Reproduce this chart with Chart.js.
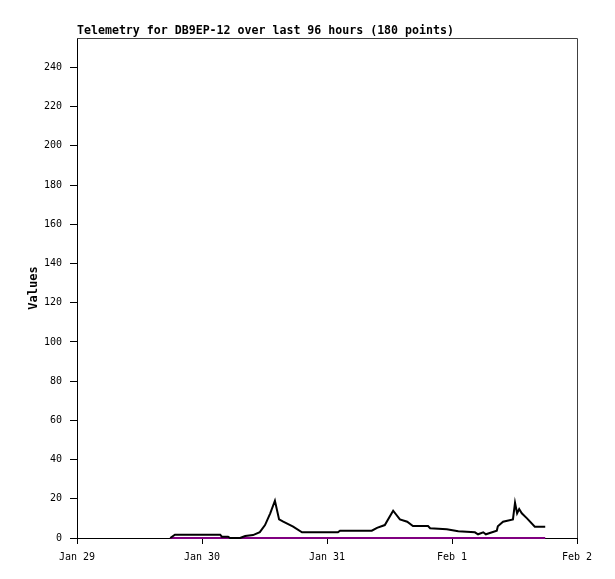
<!DOCTYPE html>
<html>
<head>
<meta charset="utf-8">
<title>Telemetry DB9EP-12</title>
<style>
  body { margin: 0; background: #fff; }
  canvas { display: block; }
</style>
</head>
<body>
<canvas id="telemetry" width="615" height="579"></canvas>
<script src="https://cdn.jsdelivr.net/npm/chart.js@4/dist/chart.umd.min.js"></script>
<script>
// hours since Jan 29 00:00
const dayLabels = ['Jan 29', 'Jan 30', 'Jan 31', 'Feb 1', 'Feb 2'];
const yTicks = [0, 20, 40, 60, 80, 100, 120, 140, 160, 180, 200, 220, 240];

const mainHours = [17.9, 18.8, 27.5, 27.8, 29.0, 29.4, 31.3, 32.3, 33.8, 35.1, 36.1, 37.1, 38.0,
  38.8, 39.6, 41.5, 43.2, 50.1, 50.5, 56.6, 57.6, 59.1, 60.7, 62.0, 63.4, 64.5, 67.4, 67.8,
  71.0, 73.2, 76.4, 77.0, 78.0, 78.5, 79.7, 80.6, 80.8, 81.8, 83.7, 84.1, 84.5, 84.9, 85.4,
  86.4, 87.9, 89.9];
const mainValues = [0, 1.7, 1.7, 0.7, 0.7, 0, 0, 1, 1.5, 3, 6.6, 12.6, 19,
  9.5, 8.3, 5.8, 2.9, 2.9, 3.7, 3.7, 5.2, 6.6, 13.9, 9.5, 8.3, 6.1, 6.1, 5,
  4.5, 3.4, 2.9, 1.9, 2.9, 1.9, 2.9, 3.7, 6, 8.3, 9.5, 18, 12.6, 14.8, 12.6,
  10, 5.8, 5.8];

const purpleHours = [17.9, 89.9];
const purpleValues = [0, 0];

function toPoints(xs, ys) {
  return xs.map((x, i) => ({ x: x, y: ys[i] }));
}

const MONO = '"DejaVu Sans Mono", "Liberation Mono", monospace';

// grey frame on top and right of the plot
const frame = {
  id: 'frame',
  beforeDatasetsDraw(chart) {
    const a = chart.chartArea, c = chart.ctx;
    c.save();
    c.strokeStyle = '#404040';
    c.lineWidth = 1;
    c.beginPath();
    c.moveTo(a.left, a.top + 0.5);
    c.lineTo(a.right + 0.5, a.top + 0.5);
    c.lineTo(a.right + 0.5, a.bottom);
    c.stroke();
    c.restore();
  }
};

new Chart(document.getElementById('telemetry').getContext('2d'), {
  type: 'line',
  data: {
    datasets: [{
      label: 'main',
      data: toPoints(mainHours, mainValues),
      borderColor: '#000000',
      borderWidth: 2,
      pointRadius: 0,
      tension: 0,
      clip: false
    }, {
      label: 'purple',
      data: toPoints(purpleHours, purpleValues),
      borderColor: '#800080',
      borderWidth: 2,
      pointRadius: 0,
      tension: 0,
      clip: false
    }]
  },
  options: {
    responsive: false,
    animation: false,
    devicePixelRatio: 1,
    layout: { padding: { left: 0, right: 38, top: 0, bottom: 0 } },
    plugins: {
      legend: { display: false },
      tooltip: { enabled: false },
      title: {
        display: true,
        text: 'Telemetry for DB9EP-12 over last 96 hours (180 points)',
        align: 'start',
        fullSize: false,
        color: '#000',
        font: { family: MONO, size: 11.6, weight: 'bold', lineHeight: 1 },
        padding: { top: 25.5, bottom: 0.9 }
      }
    },
    scales: {
      x: {
        type: 'linear',
        min: 0,
        max: 96,
        afterFit: s => { s.height = 41; },
        afterBuildTicks: s => { s.ticks = dayLabels.map((_, i) => ({ value: i * 24 })); },
        ticks: {
          color: '#000',
          font: { family: MONO, size: 10 },
          padding: 7,
          maxRotation: 0,
          callback: v => dayLabels[v / 24]
        },
        grid: { drawOnChartArea: false, color: '#000', tickLength: 6, tickWidth: 1 },
        border: { color: '#000', width: 1 }
      },
      y: {
        type: 'linear',
        min: 0,
        max: 255,
        afterFit: s => { s.width = 77; },
        afterBuildTicks: s => { s.ticks = yTicks.map(v => ({ value: v })); },
        ticks: {
          color: '#000',
          font: { family: MONO, size: 10 },
          padding: 8
        },
        grid: { drawOnChartArea: false, color: '#000', tickLength: 7, tickWidth: 1 },
        border: { color: '#000', width: 1 },
        title: {
          display: true,
          text: 'Values',
          color: '#000',
          font: { family: MONO, size: 12, weight: 'bold', lineHeight: 1.2 },
          padding: { top: 27, bottom: 0 }
        }
      }
    }
  },
  plugins: [frame]
});
</script>
</body>
</html>
